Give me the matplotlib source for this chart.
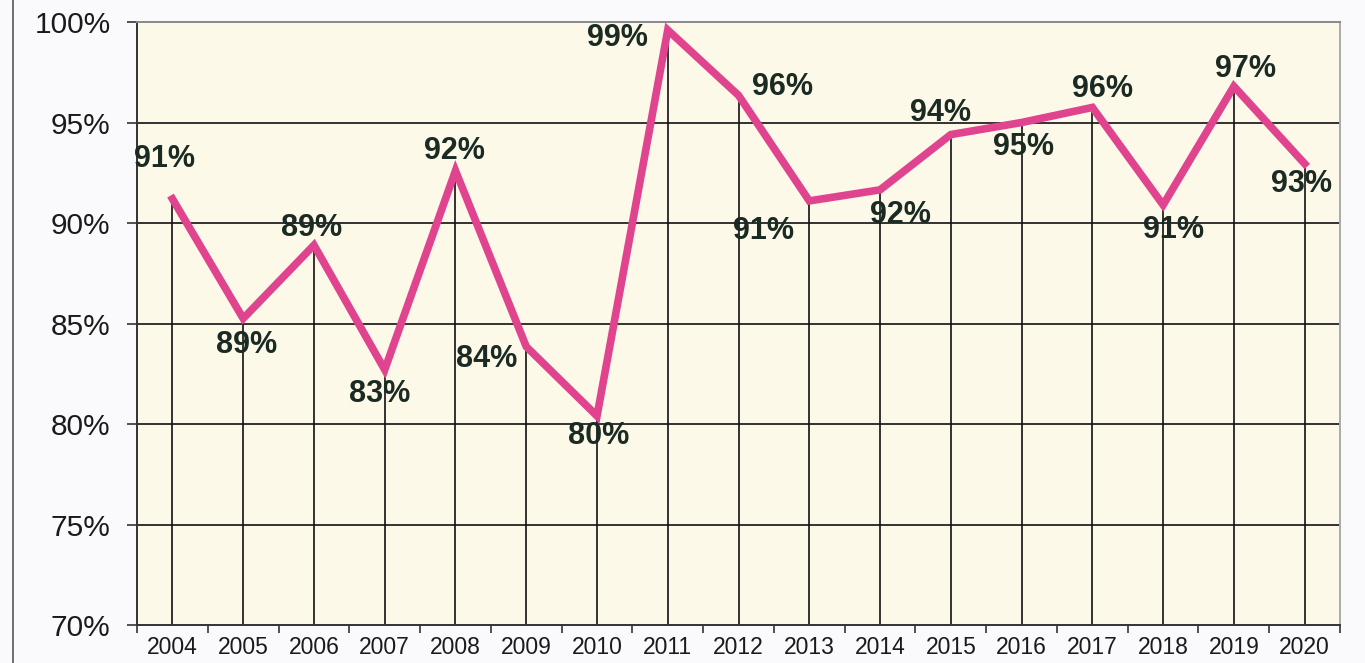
import matplotlib
matplotlib.use("Agg")
import matplotlib.pyplot as plt
from matplotlib.ticker import FixedLocator
import numpy as np

years = ["2004", "2005", "2006", "2007", "2008", "2009", "2010", "2011", "2012",
         "2013", "2014", "2015", "2016", "2017", "2018", "2019", "2020"]
values = [91.2, 85.25, 88.9, 82.7, 92.6, 83.85, 80.4, 99.6, 96.35,
          91.1, 91.65, 94.4, 95.0, 95.75, 90.9, 96.8, 92.95]
# labels as printed in the chart (2005 is printed as 89%)
labels = ["91%", "89%", "89%", "83%", "92%", "84%", "80%", "99%", "96%",
          "91%", "92%", "94%", "95%", "96%", "91%", "97%", "93%"]
y_ticks = [70, 75, 80, 85, 90, 95, 100]

# label offsets from each point, in pixels
offsets = [(-8, 40), (3, -27), (-2, 17), (-5, -24), (-1, 20), (-40, -12), (2, -20),
           (-50, -8), (44, 8), (-46, -30), (20, -25), (-10, 22), (2, -24),
           (10, 18), (10, -25), (12, 17), (-3, -20)]

fig = plt.figure(figsize=(13.65, 6.63), dpi=100, facecolor="#fafafc")
ax = fig.add_axes([0.1004, 0.0573, 0.8813, 0.9095])
ax.set_facecolor("#fcf9e9")

x = np.arange(len(years))

# horizontal gridlines and drop lines
for t in y_ticks[1:-1]:
    ax.axhline(t, color="#111111", lw=1.2, zorder=1)
ax.vlines(x, 70, values, color="#111111", lw=1.2, zorder=1)

ax.plot(x, values, color="#e0448f", lw=5.5, solid_joinstyle="miter", zorder=3)

for xi, v, lab, (dx, dy) in zip(x, values, labels, offsets):
    ax.annotate(lab, (xi, v), xytext=(dx, dy), textcoords="offset pixels",
                ha="center", va="center", fontsize=22, fontweight="bold",
                family="Liberation Sans", color="#1b2b24", zorder=4)

ax.set_xlim(-0.5, len(years) - 0.5)
ax.set_ylim(70, 100)
ax.set_yticks(y_ticks)
ax.set_yticklabels([f"{t}%" for t in y_ticks], fontsize=21.5, family="Liberation Sans",
                   color="#1a1a1a")
ax.set_xticks(x)
ax.set_xticklabels(years, fontsize=16.5, family="Liberation Sans", color="#1a1a1a")
ax.xaxis.set_minor_locator(FixedLocator(np.arange(-0.5, len(years), 1.0)))
ax.tick_params(axis="x", which="major", length=0, pad=8)
ax.tick_params(axis="x", which="minor", length=6, width=1.2, color="#333333", direction="out")
ax.tick_params(axis="y", length=7, width=1.2, color="#333333", pad=12)

ax.spines["left"].set_color("#333333")
ax.spines["bottom"].set_color("#333333")
ax.spines["top"].set_color("#888888")
ax.spines["right"].set_color("#aaaaaa")
for s in ax.spines.values():
    s.set_linewidth(1.4)

# scan border line at left
fig.add_artist(plt.Line2D([0.0095, 0.0095], [0, 1], color="#555555", lw=1.2))

fig.savefig("out.png", dpi=100, facecolor=fig.get_facecolor())
